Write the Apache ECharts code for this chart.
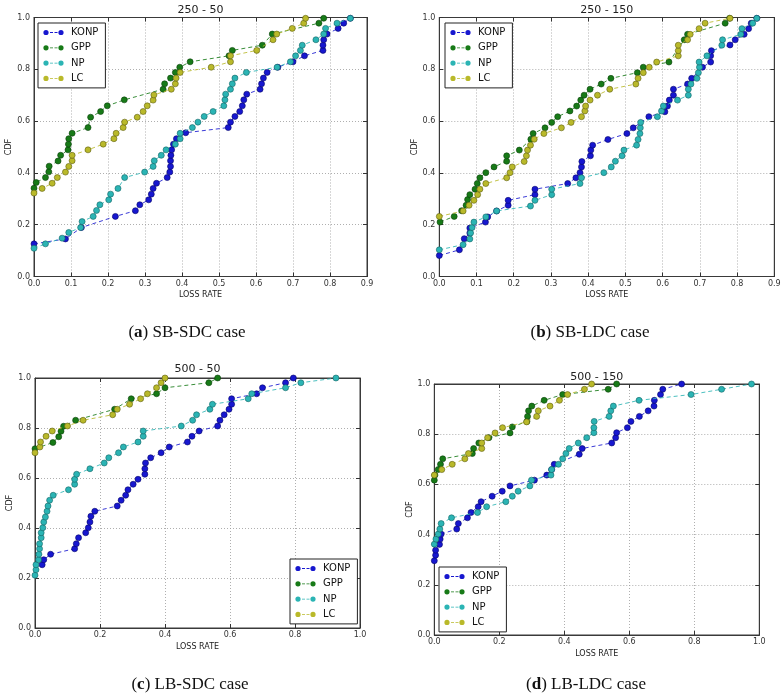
<!DOCTYPE html>
<html><head><meta charset="utf-8">
<script src="https://cdn.jsdelivr.net/npm/echarts@6/dist/echarts.min.js"></script>
<style>html,body{margin:0;padding:0;background:#fff}#c{width:784px;height:696px}</style>
</head><body><div id="c"></div>
<script>
// ---------- labels / ticks ----------
const seriesNames = ['KONP', 'GPP', 'NP', 'LC'];
const panelTitles = ['250 - 50', '250 - 150', '500 - 50', '500 - 150'];
const captionLetters = ['a', 'b', 'c', 'd'];
const captionTexts = ['SB-SDC case', 'SB-LDC case', 'LB-SDC case', 'LB-LDC case'];
const xAxisMax = [0.9, 0.9, 1.0, 1.0];
const xAxisStep = [0.1, 0.1, 0.2, 0.2];
const yAxisMax = 1.0;
const yAxisStep = 0.2;
const xAxisName = 'LOSS RATE';
const yAxisName = 'CDF';

// ---------- (a) SB-SDC : 250 - 50 ----------
const sbsdcKONP = [[0,0.126],[0.085,0.145],[0.128,0.189],[0.22,0.232],[0.274,0.254],[0.286,0.277],[0.31,0.296],[0.317,0.318],[0.322,0.34],[0.331,0.36],[0.36,0.382],[0.367,0.403],[0.369,0.425],[0.369,0.447],[0.37,0.468],[0.372,0.489],[0.377,0.511],[0.385,0.532],[0.41,0.555],[0.525,0.575],[0.531,0.596],[0.543,0.618],[0.556,0.637],[0.563,0.659],[0.567,0.682],[0.575,0.704],[0.611,0.723],[0.615,0.744],[0.62,0.766],[0.63,0.788],[0.659,0.808],[0.7,0.829],[0.731,0.852],[0.781,0.873],[0.781,0.893],[0.783,0.914],[0.792,0.936],[0.822,0.958],[0.837,0.978],[0.855,0.997]];
const sbsdcGPP = [[0,0.341],[0.006,0.363],[0.031,0.382],[0.04,0.404],[0.041,0.426],[0.065,0.446],[0.072,0.468],[0.092,0.489],[0.093,0.511],[0.094,0.532],[0.103,0.553],[0.146,0.575],[0.153,0.615],[0.18,0.637],[0.198,0.659],[0.244,0.682],[0.349,0.723],[0.353,0.744],[0.369,0.766],[0.382,0.788],[0.394,0.808],[0.422,0.829],[0.527,0.852],[0.536,0.873],[0.617,0.893],[0.644,0.936],[0.77,0.978],[0.783,0.997]];
const sbsdcNP = [[0,0.109],[0.031,0.126],[0.076,0.148],[0.094,0.17],[0.126,0.189],[0.13,0.212],[0.16,0.232],[0.169,0.255],[0.178,0.277],[0.202,0.296],[0.207,0.318],[0.227,0.34],[0.245,0.382],[0.299,0.403],[0.322,0.425],[0.325,0.447],[0.344,0.468],[0.357,0.489],[0.382,0.511],[0.395,0.532],[0.395,0.553],[0.428,0.575],[0.443,0.596],[0.46,0.618],[0.484,0.637],[0.513,0.659],[0.516,0.682],[0.518,0.704],[0.531,0.723],[0.536,0.744],[0.543,0.766],[0.574,0.788],[0.657,0.808],[0.693,0.829],[0.707,0.852],[0.72,0.873],[0.725,0.893],[0.762,0.914],[0.783,0.936],[0.788,0.958],[0.819,0.978],[0.855,0.997]];
const sbsdcLC = [[0,0.322],[0.022,0.34],[0.049,0.36],[0.063,0.382],[0.085,0.403],[0.094,0.425],[0.103,0.447],[0.103,0.468],[0.146,0.489],[0.187,0.511],[0.216,0.532],[0.222,0.553],[0.241,0.575],[0.245,0.596],[0.279,0.615],[0.295,0.637],[0.306,0.659],[0.322,0.681],[0.324,0.701],[0.371,0.723],[0.382,0.744],[0.384,0.766],[0.395,0.788],[0.479,0.808],[0.531,0.829],[0.531,0.852],[0.602,0.873],[0.646,0.914],[0.656,0.936],[0.698,0.958],[0.729,0.978],[0.734,0.997]];

// ---------- (b) SB-LDC : 250 - 150 ----------
const sbldcKONP = [[0,0.081],[0.054,0.103],[0.067,0.146],[0.082,0.168],[0.082,0.187],[0.124,0.21],[0.13,0.23],[0.154,0.253],[0.185,0.275],[0.185,0.294],[0.257,0.316],[0.257,0.337],[0.345,0.359],[0.367,0.381],[0.378,0.401],[0.382,0.423],[0.383,0.444],[0.406,0.466],[0.407,0.488],[0.412,0.507],[0.453,0.529],[0.504,0.552],[0.521,0.574],[0.563,0.617],[0.606,0.636],[0.613,0.658],[0.618,0.681],[0.629,0.70],[0.629,0.723],[0.667,0.743],[0.678,0.765],[0.707,0.808],[0.729,0.828],[0.729,0.852],[0.731,0.872],[0.781,0.894],[0.795,0.914],[0.819,0.935],[0.831,0.957],[0.838,0.978],[0.853,0.997]];
const sbldcGPP = [[0.002,0.21],[0.04,0.232],[0.06,0.254],[0.072,0.275],[0.076,0.297],[0.082,0.316],[0.096,0.337],[0.102,0.359],[0.109,0.381],[0.125,0.401],[0.147,0.423],[0.181,0.445],[0.181,0.466],[0.215,0.488],[0.246,0.53],[0.252,0.552],[0.284,0.574],[0.302,0.595],[0.318,0.617],[0.351,0.639],[0.369,0.658],[0.38,0.681],[0.389,0.70],[0.405,0.723],[0.435,0.743],[0.461,0.765],[0.532,0.787],[0.548,0.808],[0.617,0.828],[0.658,0.914],[0.667,0.935],[0.768,0.978],[0.78,0.997]];
const sbldcNP = [[0,0.103],[0.064,0.123],[0.082,0.145],[0.084,0.168],[0.088,0.189],[0.093,0.21],[0.125,0.23],[0.154,0.253],[0.245,0.272],[0.257,0.294],[0.302,0.316],[0.302,0.337],[0.378,0.359],[0.382,0.381],[0.442,0.401],[0.462,0.423],[0.473,0.445],[0.491,0.466],[0.496,0.488],[0.53,0.507],[0.534,0.529],[0.539,0.552],[0.54,0.574],[0.541,0.595],[0.586,0.617],[0.597,0.639],[0.602,0.658],[0.64,0.681],[0.669,0.70],[0.669,0.723],[0.676,0.743],[0.692,0.765],[0.696,0.787],[0.699,0.808],[0.698,0.828],[0.719,0.852],[0.759,0.893],[0.761,0.914],[0.81,0.935],[0.813,0.957],[0.842,0.978],[0.853,0.997]];
const sbldcLC = [[0,0.232],[0.064,0.253],[0.08,0.275],[0.093,0.294],[0.103,0.316],[0.109,0.337],[0.125,0.359],[0.181,0.381],[0.19,0.401],[0.196,0.423],[0.228,0.444],[0.234,0.466],[0.237,0.488],[0.245,0.507],[0.255,0.53],[0.281,0.552],[0.328,0.574],[0.354,0.595],[0.382,0.617],[0.391,0.639],[0.393,0.658],[0.405,0.681],[0.425,0.70],[0.458,0.723],[0.528,0.743],[0.534,0.765],[0.548,0.787],[0.564,0.808],[0.584,0.828],[0.642,0.852],[0.642,0.872],[0.642,0.893],[0.667,0.914],[0.674,0.935],[0.698,0.957],[0.714,0.978],[0.781,0.997]];

// ---------- (c) LB-SDC : 500 - 50 ----------
const lbsdcKONP = [[0.022,0.253],[0.027,0.273],[0.048,0.295],[0.122,0.317],[0.127,0.337],[0.134,0.361],[0.156,0.381],[0.164,0.401],[0.169,0.424],[0.172,0.447],[0.184,0.467],[0.253,0.488],[0.265,0.511],[0.279,0.531],[0.286,0.553],[0.302,0.575],[0.317,0.595],[0.338,0.615],[0.338,0.637],[0.34,0.66],[0.356,0.681],[0.388,0.701],[0.413,0.724],[0.469,0.744],[0.483,0.767],[0.505,0.788],[0.562,0.808],[0.569,0.831],[0.582,0.853],[0.597,0.875],[0.605,0.895],[0.605,0.917],[0.682,0.937],[0.70,0.961],[0.771,0.981],[0.795,1.0]];
const lbsdcGPP = [[0,0.717],[0.055,0.742],[0.073,0.765],[0.08,0.787],[0.088,0.807],[0.125,0.831],[0.245,0.875],[0.296,0.917],[0.374,0.937],[0.40,0.961],[0.535,0.981],[0.562,1.0]];
const lbsdcNP = [[0,0.211],[0.003,0.233],[0.003,0.253],[0.011,0.273],[0.012,0.295],[0.014,0.317],[0.014,0.337],[0.019,0.361],[0.019,0.381],[0.024,0.401],[0.027,0.424],[0.032,0.444],[0.037,0.467],[0.04,0.488],[0.045,0.511],[0.056,0.531],[0.103,0.553],[0.122,0.575],[0.122,0.595],[0.128,0.615],[0.169,0.637],[0.213,0.66],[0.227,0.681],[0.257,0.701],[0.272,0.724],[0.317,0.744],[0.333,0.767],[0.333,0.788],[0.45,0.808],[0.485,0.831],[0.497,0.853],[0.538,0.875],[0.546,0.895],[0.656,0.917],[0.667,0.937],[0.771,0.961],[0.818,0.981],[0.926,1.0]];
const lbsdcLC = [[0,0.701],[0.015,0.724],[0.017,0.744],[0.034,0.767],[0.053,0.788],[0.1,0.808],[0.148,0.831],[0.239,0.853],[0.253,0.875],[0.291,0.895],[0.325,0.917],[0.346,0.937],[0.374,0.961],[0.388,0.981],[0.40,1.0]];

// ---------- (d) LB-LDC : 500 - 150 ----------
const lbldcKONP = [[0,0.296],[0.004,0.318],[0.004,0.338],[0.016,0.361],[0.018,0.382],[0.021,0.402],[0.069,0.422],[0.074,0.444],[0.102,0.467],[0.113,0.488],[0.135,0.511],[0.144,0.531],[0.178,0.553],[0.209,0.573],[0.233,0.594],[0.308,0.617],[0.346,0.637],[0.361,0.659],[0.369,0.68],[0.446,0.72],[0.455,0.743],[0.546,0.765],[0.558,0.786],[0.561,0.806],[0.594,0.826],[0.605,0.851],[0.631,0.871],[0.658,0.893],[0.676,0.912],[0.677,0.935],[0.696,0.958],[0.703,0.979],[0.761,1.0]];
const lbldcGPP = [[0,0.617],[0.002,0.637],[0.012,0.659],[0.019,0.68],[0.026,0.702],[0.117,0.723],[0.121,0.743],[0.137,0.765],[0.168,0.786],[0.233,0.805],[0.24,0.829],[0.285,0.851],[0.287,0.871],[0.29,0.893],[0.30,0.912],[0.338,0.935],[0.395,0.958],[0.535,0.979],[0.561,1.0]];
const lbldcNP = [[0,0.362],[0.005,0.382],[0.012,0.402],[0.017,0.422],[0.021,0.444],[0.053,0.467],[0.133,0.488],[0.161,0.511],[0.22,0.531],[0.24,0.553],[0.258,0.573],[0.294,0.594],[0.299,0.617],[0.359,0.637],[0.361,0.659],[0.382,0.68],[0.395,0.702],[0.405,0.723],[0.415,0.743],[0.443,0.765],[0.469,0.786],[0.491,0.806],[0.491,0.826],[0.492,0.851],[0.538,0.871],[0.543,0.893],[0.551,0.912],[0.63,0.935],[0.79,0.958],[0.884,0.979],[0.976,1.0]];
const lbldcLC = [[0,0.637],[0.023,0.659],[0.055,0.68],[0.094,0.702],[0.105,0.723],[0.146,0.743],[0.146,0.765],[0.164,0.786],[0.187,0.805],[0.21,0.826],[0.284,0.849],[0.315,0.871],[0.32,0.893],[0.356,0.912],[0.385,0.935],[0.41,0.958],[0.462,0.979],[0.484,1.0]];

const panelData = [
  [sbsdcKONP, sbsdcGPP, sbsdcNP, sbsdcLC],
  [sbldcKONP, sbldcGPP, sbldcNP, sbldcLC],
  [lbsdcKONP, lbsdcGPP, lbsdcNP, lbsdcLC],
  [lbldcKONP, lbldcGPP, lbldcNP, lbldcLC]
];

// ---------- styling / layout ----------
const fill = ['#1717cf', '#177a17', '#2bb4b4', '#b9b92a'];
const edge = ['#05056a', '#0a3f0a', '#136464', '#5e5e10'];
const layout = [
  {left: 34, top: 17.5, width: 333, height: 259, titleY: 10, capX: 187, capY: 333, lgLeft: 38, lgTop: 23},
  {left: 439.3, top: 17.5, width: 335, height: 259, titleY: 10, capX: 590, capY: 333, lgLeft: 445, lgTop: 23},
  {left: 35, top: 378, width: 325, height: 250, titleY: 369.5, capX: 190, capY: 685, lgLeft: 290, lgTop: 559},
  {left: 434.3, top: 384, width: 325, height: 251, titleY: 377, capX: 586, capY: 685, lgLeft: 439, lgTop: 567}
];
const SANS = 'DejaVu Sans';
const SERIF = 'Liberation Serif';
const iconPath = 'path://M0.4,3A2.6,2.6,0,1,1,5.6,3A2.6,2.6,0,1,1,0.4,3Z M15.4,3A2.6,2.6,0,1,1,20.6,3A2.6,2.6,0,1,1,15.4,3Z M7,2.6L10,2.6L10,3.4L7,3.4Z M11.5,2.6L14.5,2.6L14.5,3.4L11.5,3.4Z M0,0L0.01,0L0.01,0.01Z M21,6L20.99,6L20.99,5.99Z';

const grids = [], xAxes = [], yAxes = [], series = [], titles = [], legends = [];
const fmt = v => v.toFixed(1);

layout.forEach((L, p) => {
  grids.push({left: L.left, top: L.top, width: L.width, height: L.height, show: true,
    borderColor: '#3a3a3a', borderWidth: 1, backgroundColor: '#fff', containLabel: false});
  const tick = {show: true, inside: true, length: 4, lineStyle: {color: '#333', width: 1}};
  xAxes.push({type: 'value', gridIndex: p, min: 0, max: xAxisMax[p], interval: xAxisStep[p],
    position: 'bottom',
    name: xAxisName, nameLocation: 'middle', nameGap: 14.5,
    nameTextStyle: {fontFamily: SANS, fontSize: 8, color: '#222'},
    axisLine: {show: true, onZero: false, lineStyle: {color: '#3a3a3a', width: 1}},
    axisTick: tick,
    axisLabel: {fontFamily: SANS, fontSize: 8, color: '#333', margin: 3, formatter: fmt},
    splitLine: {show: true, lineStyle: {color: '#9a9a9a', type: [1, 2], width: 0.8}}});
  yAxes.push({type: 'value', gridIndex: p, min: 0, max: yAxisMax, interval: yAxisStep,
    position: 'left',
    name: yAxisName, nameLocation: 'middle', nameGap: 20.5, nameRotate: 90,
    nameTextStyle: {fontFamily: SANS, fontSize: 8, color: '#222'},
    axisLine: {show: true, onZero: false, lineStyle: {color: '#3a3a3a', width: 1}},
    axisTick: tick,
    axisLabel: {fontFamily: SANS, fontSize: 8, color: '#333', margin: 4, formatter: fmt},
    splitLine: {show: true, lineStyle: {color: '#9a9a9a', type: [1, 2], width: 0.8}}});

  seriesNames.forEach((nm, s) => {
    series.push({
      name: nm, type: 'line', xAxisIndex: p, yAxisIndex: p,
      data: panelData[p][s],
      color: fill[s],
      symbol: 'circle', symbolSize: 6,
      itemStyle: {color: fill[s], borderColor: edge[s], borderWidth: 0.6},
      lineStyle: {color: fill[s], width: 1, type: [4, 3], opacity: 0.85},
      emphasis: {disabled: true},
      animation: false, z: 2 + s * 0.01
    });
  });

  titles.push({text: panelTitles[p], left: L.left + L.width / 2, top: L.titleY,
    textAlign: 'center', textVerticalAlign: 'middle', padding: 0,
    textStyle: {fontFamily: SANS, fontSize: 11, fontWeight: 'normal', color: '#222'}});
  titles.push({text: '({b|' + captionLetters[p] + '}) ' + captionTexts[p],
    left: L.capX, top: L.capY, textAlign: 'center', textVerticalAlign: 'middle', padding: 0,
    textStyle: {fontFamily: SERIF, fontSize: 17, fontWeight: 'normal', color: '#111',
      rich: {b: {fontFamily: SERIF, fontSize: 17, fontWeight: 'bold', color: '#111'}}}});

  legends.push({
    data: seriesNames.slice(), orient: 'vertical', left: L.lgLeft, top: L.lgTop,
    selectedMode: false, icon: iconPath, itemWidth: 21, itemHeight: 6, itemGap: 4.3,
    itemStyle: {borderWidth: 0},
    padding: [4, 7, 4, 5], borderColor: '#222', borderWidth: 1, borderRadius: 0,
    backgroundColor: '#fff', z: 10,
    textStyle: {fontFamily: SANS, fontSize: 10, color: '#111', lineHeight: 11, padding: [0, 0, 0, 2]}
  });
});

// mirrored ticks on top / right edges (matplotlib classic frame)
layout.forEach((L, p) => {
  const tick = {show: true, inside: true, length: 4, lineStyle: {color: '#333', width: 1}};
  xAxes.push({type: 'value', gridIndex: p, min: 0, max: xAxisMax[p], interval: xAxisStep[p], position: 'top',
    axisLine: {show: true, onZero: false, lineStyle: {color: '#3a3a3a'}}, axisTick: tick,
    axisLabel: {show: false}, splitLine: {show: false}});
  yAxes.push({type: 'value', gridIndex: p, min: 0, max: yAxisMax, interval: yAxisStep, position: 'right',
    axisLine: {show: true, onZero: false, lineStyle: {color: '#3a3a3a'}}, axisTick: tick,
    axisLabel: {show: false}, splitLine: {show: false}});
});

const chart = echarts.init(document.getElementById('c'), null, {renderer: 'canvas', width: 784, height: 696});
chart.setOption({
  animation: false,
  backgroundColor: '#fff',
  title: titles,
  legend: legends,
  grid: grids,
  xAxis: xAxes,
  yAxis: yAxes,
  series: series
});
</script>
</body></html>
